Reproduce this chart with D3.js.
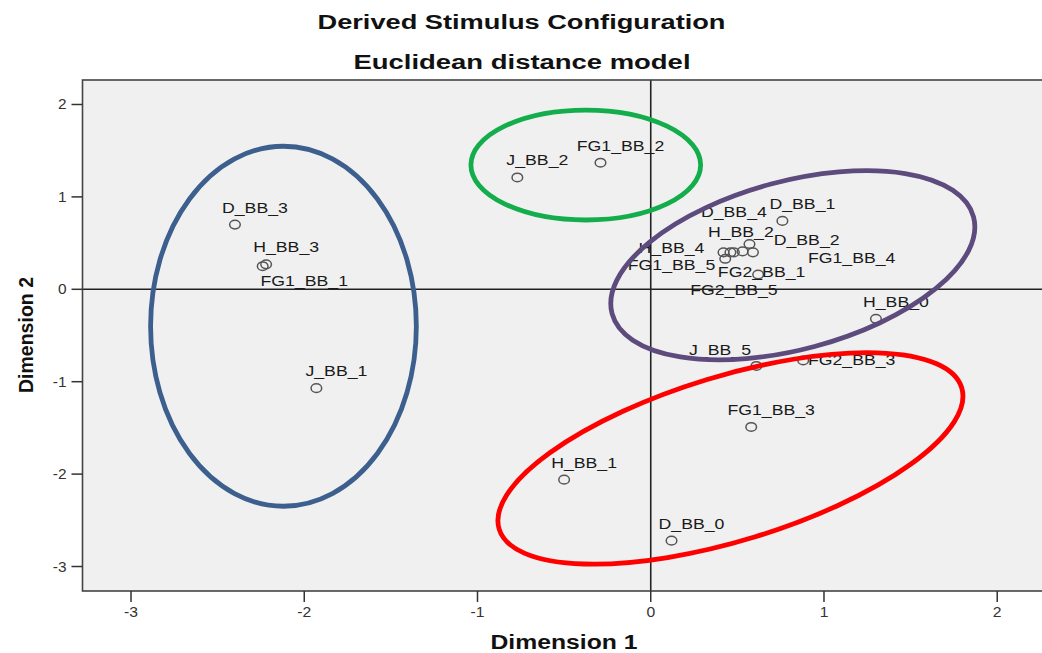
<!DOCTYPE html>
<html>
<head>
<meta charset="utf-8">
<script src="https://cdn.jsdelivr.net/npm/d3@7/dist/d3.min.js"></script>
<style>body{margin:0;background:#fff;}</style>
</head>
<body>
<div id="chart"></div>
<script>
// stimulus coordinates (dimension 1, dimension 2)
const names = ['D_BB_3', 'H_BB_3', 'FG1_BB_1', 'J_BB_1', 'J_BB_2', 'FG1_BB_2', 'D_BB_1',
  'D_BB_4', 'H_BB_2', 'D_BB_2', 'H_BB_4', 'FG1_BB_4', 'FG1_BB_5', 'FG2_BB_5', 'FG2_BB_1',
  'H_BB_0', 'J_BB_5', 'FG2_BB_3', 'FG1_BB_3', 'H_BB_1', 'D_BB_0'];
const dim1 = [-2.40, -2.22, -2.24, -1.93, -0.77, -0.29, 0.76,
  0.53, 0.57, 0.59, 0.46, 0.48, 0.43, 0.42, 0.62,
  1.30, 0.61, 0.88, 0.58, -0.50, 0.12];
const dim2 = [0.70, 0.27, 0.25, -1.07, 1.21, 1.37, 0.74,
  0.41, 0.49, 0.40, 0.40, 0.40, 0.33, 0.40, 0.16,
  -0.32, -0.83, -0.77, -1.49, -2.06, -2.72];

// labels that SPSS pushed away from their point (label centre, in data units)
const movedLabels = {
  FG1_BB_1: [-2.00, 0.04],
  D_BB_4: [0.48, 0.78],
  H_BB_2: [0.52, 0.57],
  D_BB_2: [0.90, 0.48],
  H_BB_4: [0.12, 0.39],
  FG1_BB_4: [1.16, 0.28],
  FG1_BB_5: [0.12, 0.21],
  FG2_BB_1: [0.64, 0.13],
  FG2_BB_5: [0.48, -0.06],
  J_BB_5: [0.40, -0.71],
  FG2_BB_3: [1.16, -0.82]
};

const xTicks = [-3, -2, -1, 0, 1, 2];
const yTicks = [2, 1, 0, -1, -2, -3];

// hand-drawn cluster rings (centre and half-axes in data units, tilt in degrees)
const ringColors = ['#3c5f8e', '#13ad4b', '#5e4b7e', '#ff0000'];
const ringCx = [-2.12, -0.375, 0.82, 0.46];
const ringCy = [-0.40, 1.345, 0.26, -1.83];
const ringRx = [0.767, 0.663, 1.08, 1.396];
const ringRy = [1.948, 0.595, 0.91, 0.89];
const ringTilt = [0, 0, -15, -17];

const W = 1042, H = 653;
const PLOT = { left: 82.5, right: 1044, top: 80, bottom: 591 };
const FONT = '"Liberation Sans", Arial, sans-serif';

const svg = d3.select('#chart').append('svg')
  .attr('width', W).attr('height', H)
  .style('font-family', FONT);

const x = d3.scaleLinear().domain([-3.28, 2.27]).range([PLOT.left, PLOT.right]);
const y = d3.scaleLinear().domain([-3.265, 2.265]).range([PLOT.bottom, PLOT.top]);

// stretched text helper (the original is rendered a bit wide)
function stretchText(parent, tx, ty, str, size, sx, opts = {}) {
  return parent.append('text')
    .attr('transform', `translate(${tx},${ty}) scale(${sx},1)`)
    .attr('text-anchor', opts.anchor || 'middle')
    .style('font-size', size + 'px')
    .style('font-weight', opts.weight || 'normal')
    .style('fill', opts.fill || '#222')
    .text(str);
}

// titles
function fitTitle(str, cx, by, size, width) {
  svg.append('text')
    .attr('x', cx).attr('y', by)
    .attr('text-anchor', 'middle')
    .attr('textLength', width).attr('lengthAdjust', 'spacingAndGlyphs')
    .style('font-size', size + 'px').style('font-weight', 'bold').style('fill', '#111')
    .text(str);
}
fitTitle('Derived Stimulus Configuration', 521.5, 29, 20, 408);
fitTitle('Euclidean distance model', 522, 69, 20, 337);

// plot background
svg.append('rect')
  .attr('x', PLOT.left).attr('y', PLOT.top)
  .attr('width', PLOT.right - PLOT.left).attr('height', PLOT.bottom - PLOT.top)
  .attr('fill', '#f0f0f0');

const clip = svg.append('defs').append('clipPath').attr('id', 'plotclip');
clip.append('rect')
  .attr('x', PLOT.left).attr('y', PLOT.top)
  .attr('width', PLOT.right - PLOT.left).attr('height', PLOT.bottom - PLOT.top);

const plot = svg.append('g').attr('clip-path', 'url(#plotclip)');

// reference lines through origin
plot.append('line')
  .attr('x1', x(0)).attr('x2', x(0)).attr('y1', PLOT.top).attr('y2', PLOT.bottom)
  .attr('stroke', '#222').attr('stroke-width', 1.6);
plot.append('line')
  .attr('x1', PLOT.left).attr('x2', PLOT.right).attr('y1', y(0)).attr('y2', y(0))
  .attr('stroke', '#222').attr('stroke-width', 1.4);

// points
const pts = names.map((n, i) => ({ name: n, d1: dim1[i], d2: dim2[i] }));

plot.selectAll('ellipse.pt').data(pts).enter().append('ellipse')
  .attr('class', 'pt')
  .attr('cx', d => x(d.d1)).attr('cy', d => y(d.d2))
  .attr('rx', 5.3).attr('ry', 4.3)
  .attr('fill', 'none').attr('stroke', '#555').attr('stroke-width', 1.5);

// labels
for (const p of pts) {
  let lx, ly;
  if (movedLabels[p.name]) {
    lx = x(movedLabels[p.name][0]);
    ly = y(movedLabels[p.name][1]);
  } else {
    lx = x(p.d1) + 20;
    ly = y(p.d2) - 12;
  }
  stretchText(plot, lx, ly, p.name, 15, 1.18, { fill: '#1a1a1a' });
}

// cluster rings
for (let i = 0; i < ringColors.length; i++) {
  const cx = x(ringCx[i]), cy = y(ringCy[i]);
  plot.append('ellipse')
    .attr('transform', `translate(${cx},${cy}) rotate(${ringTilt[i]})`)
    .attr('rx', x(ringRx[i]) - x(0))
    .attr('ry', y(0) - y(ringRy[i]))
    .attr('fill', 'none')
    .attr('stroke', ringColors[i])
    .attr('stroke-width', 4.8);
}

// frame
svg.append('rect')
  .attr('x', PLOT.left).attr('y', PLOT.top)
  .attr('width', PLOT.right - PLOT.left).attr('height', PLOT.bottom - PLOT.top)
  .attr('fill', 'none').attr('stroke', '#444').attr('stroke-width', 1.6);

// axes
const xAxis = svg.append('g').attr('transform', `translate(0,${PLOT.bottom})`);
xAxis.selectAll('line').data(xTicks).enter().append('line')
  .attr('x1', d => x(d)).attr('x2', d => x(d))
  .attr('y1', 0).attr('y2', 11)
  .attr('stroke', '#333').attr('stroke-width', 1.5);
xTicks.forEach(t => stretchText(xAxis, x(t), 26, String(t), 14, 1.12, { fill: '#333' }));

const yAxis = svg.append('g').attr('transform', `translate(${PLOT.left},0)`);
yAxis.selectAll('line').data(yTicks).enter().append('line')
  .attr('x1', -11).attr('x2', 0)
  .attr('y1', d => y(d)).attr('y2', d => y(d))
  .attr('stroke', '#333').attr('stroke-width', 1.5);
yTicks.forEach(t => stretchText(yAxis, -16, y(t) + 5, String(t), 14, 1.1, { fill: '#333', anchor: 'end' }));

// axis titles
svg.append('text')
  .attr('x', 564).attr('y', 649)
  .attr('text-anchor', 'middle')
  .attr('textLength', 147).attr('lengthAdjust', 'spacingAndGlyphs')
  .style('font-size', '19.5px').style('font-weight', 'bold').style('fill', '#111')
  .text('Dimension 1');

svg.append('text')
  .attr('transform', `translate(33,335) rotate(-90)`)
  .attr('text-anchor', 'middle')
  .attr('textLength', 116).attr('lengthAdjust', 'spacingAndGlyphs')
  .style('font-size', '19.5px').style('font-weight', 'bold').style('fill', '#111')
  .text('Dimension 2');
</script>
</body>
</html>
